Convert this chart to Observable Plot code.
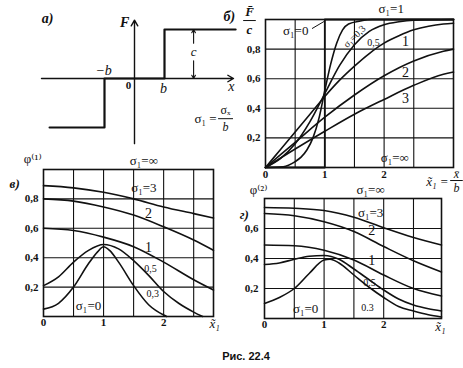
<!DOCTYPE html>
<html><head><meta charset="utf-8">
<script src="https://cdn.jsdelivr.net/npm/d3@7"></script>
<script src="https://cdn.jsdelivr.net/npm/@observablehq/plot@0.6"></script>
<style>
body{margin:0;background:#fff;}
#fig{position:relative;width:463px;height:368px;overflow:hidden;}
#fig svg{position:absolute;overflow:visible;background:transparent;}
#fig svg, #fig svg text, #fig svg g{font-family:"Liberation Serif","DejaVu Serif",serif !important;}
#caption{position:absolute;left:0;width:492px;top:350px;text-align:center;font:bold 11px "Liberation Sans",Arial,sans-serif;color:#111;}
</style></head><body><div id="fig"><div id="caption">Рис. 22.4</div></div>
<script>
// ---------- Panel а: relay characteristic (x in units of b, F in units of c)
const relayX = [-2.83, -1, -1, 1, 1, 3.37];
const relayF = [-1, -1, 0, 0, 1, 1];

// ---------- Panel б: F̄/c versus x̃1
const bX0 = [0, 1, 1, 3.17];
const bY0 = [0, 0, 1, 1];
const bX03 = [0, 0.3, 0.5, 0.6, 0.7, 0.8, 0.9, 1.0, 1.1, 1.2, 1.3, 1.4, 1.6, 1.8, 2.2, 3.17];
const bY03 = [0, 0.005, 0.04, 0.07, 0.12, 0.2, 0.33, 0.52, 0.7, 0.84, 0.93, 0.97, 0.99, 1, 1, 1];
const bX05 = [0, 0.25, 0.5, 0.75, 1, 1.25, 1.5, 1.75, 2, 2.25, 2.5, 3.17];
const bY05 = [0, 0.06, 0.16, 0.31, 0.5, 0.69, 0.83, 0.92, 0.965, 0.985, 0.995, 1];
const bX1 = [0, 0.25, 0.5, 0.75, 1, 1.25, 1.5, 1.75, 2, 2.25, 2.5, 2.75, 3, 3.17];
const bY1 = [0, 0.12, 0.24, 0.36, 0.48, 0.59, 0.685, 0.77, 0.84, 0.89, 0.93, 0.955, 0.97, 0.975];
const bX23 = [0, 0.5, 1, 1.5, 2, 2.5, 3, 3.17];
const bY2 = [0, 0.17, 0.34, 0.49, 0.62, 0.72, 0.785, 0.80];
const bY3 = [0, 0.125, 0.245, 0.36, 0.46, 0.555, 0.63, 0.645];
const bGridX = [0.5, 1, 1.5, 2, 2.5];
const bGridY = [0.2, 0.4, 0.6, 0.8];
const bTicksX = [0, 1, 2];

// ---------- Panel в: φ(1) versus x̃1
const vX = [0, 0.5, 1, 1.5, 2, 2.5, 2.83];
const vY3 = [0.89, 0.875, 0.845, 0.80, 0.745, 0.70, 0.67];
const vY2 = [0.80, 0.785, 0.745, 0.69, 0.61, 0.52, 0.45];
const vY1 = [0.60, 0.585, 0.54, 0.475, 0.37, 0.25, 0.18];
const vX05 = [0, 0.25, 0.5, 0.75, 1, 1.25, 1.5, 1.75, 2, 2.25, 2.5, 2.65];
const vY05 = [0.21, 0.27, 0.37, 0.45, 0.49, 0.46, 0.38, 0.28, 0.17, 0.09, 0.03, 0];
const vX03 = [0, 0.25, 0.5, 0.75, 0.9, 1, 1.1, 1.25, 1.5, 1.75, 2, 2.05];
const vY03 = [0.05, 0.09, 0.2, 0.36, 0.44, 0.475, 0.45, 0.37, 0.21, 0.08, 0.01, 0];
const vGridX = [0.5, 1, 1.5, 2, 2.5];
const vGridY = [0.2, 0.4, 0.6, 0.8];

// ---------- Panel г: φ(2) versus x̃1
const gX = [0, 0.5, 1, 1.5, 2, 2.5, 2.97];
const gY3 = [0.74, 0.735, 0.72, 0.675, 0.605, 0.54, 0.49];
const gY2 = [0.70, 0.685, 0.645, 0.58, 0.48, 0.385, 0.31];
const gY1 = [0.49, 0.485, 0.455, 0.39, 0.29, 0.20, 0.15];
const gX05 = [0, 0.25, 0.5, 0.75, 1, 1.25, 1.5, 1.75, 2, 2.25, 2.5, 2.75, 2.97];
const gY05 = [0.36, 0.37, 0.395, 0.415, 0.42, 0.395, 0.33, 0.26, 0.19, 0.13, 0.09, 0.065, 0.05];
const gX03 = [0, 0.25, 0.5, 0.75, 1, 1.1, 1.25, 1.5, 1.75, 2, 2.25, 2.5, 2.75, 2.97];
const gY03 = [0.10, 0.14, 0.2, 0.3, 0.39, 0.395, 0.37, 0.29, 0.21, 0.14, 0.08, 0.05, 0.025, 0.01];
const gGridX = [0.5, 1, 1.5, 2, 2.5];
const gGridY = [0.2, 0.4, 0.6];

// ---------- helpers
const serif = "'Liberation Serif','DejaVu Serif',serif";
const rows = (xs, ys) => xs.map((x, i) => ({x, y: ys[i]}));
const curve = (xs, ys, o = {}) => Plot.line(rows(xs, ys), {x: "x", y: "y", curve: "monotone-x", stroke: "#111", strokeWidth: 1.6, ...o});
const lab = (t, x, y, o = {}) => Plot.text([{t, x, y}], {x: "x", y: "y", text: "t", fontSize: 12, fill: "#111", fontFamily: serif, ...o});
const seg = (x1, y1, x2, y2, o = {}) => Plot.line([{x: x1, y: y1}, {x: x2, y: y2}], {x: "x", y: "y", stroke: "#111", strokeWidth: 1, ...o});
const comma = d => d.toFixed(1).replace(".", ",");
const fig = document.getElementById("fig");
function place(svg, left, top) {
  svg.style.left = left + "px";
  svg.style.top = top + "px";
  fig.appendChild(svg);
}
const baseStyle = {fontFamily: serif, background: "transparent", color: "#111", overflow: "visible"};
const tickTxt = {tickSize: 0, fontSize: 11, fontWeight: "bold", fontFamily: serif, label: null};

// ---------- Panel а
const pA = Plot.plot({
  width: 240, height: 145, marginLeft: 0, marginRight: 0, marginTop: 0, marginBottom: 0,
  x: {domain: [-134 / 30, 106 / 30], axis: null},
  y: {domain: [-67 / 49, 78 / 49], axis: null},
  style: baseStyle,
  marks: [
    Plot.arrow([{x1: -3.1, y1: 0, x2: 3.3, y2: 0}], {x1: "x1", y1: "y1", x2: "x2", y2: "y2", stroke: "#111", strokeWidth: 1.4, headLength: 7}),
    Plot.arrow([{x1: 0, y1: -1.33, x2: 0, y2: 1.19}], {x1: "x1", y1: "y1", x2: "x2", y2: "y2", stroke: "#111", strokeWidth: 1.4, headLength: 7}),
    Plot.line(rows(relayX, relayF), {x: "x", y: "y", stroke: "#111", strokeWidth: 2.2}),
    Plot.arrow([{x1: 1.97, y1: 0.72, x2: 1.97, y2: 1.0}, {x1: 1.97, y1: 0.36, x2: 1.97, y2: 0}],
      {x1: "x1", y1: "y1", x2: "x2", y2: "y2", stroke: "#111", strokeWidth: 1.1, headLength: 5}),
    lab("а)", -2.9, 1.22, {fontStyle: "italic", fontWeight: "bold", fontSize: 14}),
    lab("F", -0.33, 1.14, {fontStyle: "italic", fontWeight: "bold", fontSize: 14}),
    lab("−b", -1.03, 0.17, {fontStyle: "italic", fontSize: 14}),
    lab("0", -0.2, -0.15, {fontSize: 11, fontWeight: "bold"}),
    lab("b", 0.97, -0.2, {fontStyle: "italic", fontSize: 14}),
    lab("c", 1.97, 0.55, {fontStyle: "italic", fontSize: 13}),
    lab("x", 3.23, -0.16, {fontStyle: "italic", fontSize: 14}),
    lab("σ₁ =", 2.37, -0.82, {fontSize: 13}),
    lab("σₓ", 3.03, -0.64, {fontSize: 12}),
    seg(2.8, -0.82, 3.27, -0.82),
    lab("b", 3.03, -1.0, {fontStyle: "italic", fontSize: 12})
  ]
});
place(pA, 0, 0);

// ---------- Panel б
const pB = Plot.plot({
  width: 243, height: 192, marginLeft: 45, marginRight: 10, marginTop: 19, marginBottom: 25,
  x: {domain: [0, 3.17]},
  y: {domain: [0, 1]},
  style: baseStyle,
  marks: [
    Plot.ruleX(bGridX, {stroke: "#111", strokeWidth: 1.1}),
    Plot.ruleY(bGridY, {stroke: "#111", strokeWidth: 1.1}),
    Plot.frame({stroke: "#111", strokeWidth: 1.6}),
    Plot.axisX({ticks: bTicksX, tickPadding: 3, tickFormat: d => String(d), ...tickTxt}),
    Plot.axisY({ticks: bGridY, tickPadding: 5, tickFormat: comma, ...tickTxt}),
    Plot.line(rows(bX0, bY0), {x: "x", y: "y", stroke: "#111", strokeWidth: 1.8}),
    curve(bX03, bY03),
    curve(bX05, bY05),
    curve(bX1, bY1),
    curve(bX23, bY2),
    curve(bX23, bY3),
    lab("σ₁=1", 2.12, 1.07, {fontSize: 13}),
    lab("б)", -0.61, 1.02, {fontStyle: "italic", fontWeight: "bold", fontSize: 14}),
    lab("F\u0304", -0.27, 1.05, {fontStyle: "italic", fontWeight: "bold", fontSize: 13}),
    seg(-0.37, 0.993, -0.17, 0.993),
    lab("c", -0.27, 0.932, {fontStyle: "italic", fontWeight: "bold", fontSize: 13}),
    lab("σ₁=0", 0.51, 0.925, {fontSize: 13}),
    seg(0.79, 0.94, 0.98, 0.985),
    lab("σ₁=0,3", 1.5, 0.885, {fontSize: 10, rotate: -45}),
    lab("0,5", 1.82, 0.845, {fontSize: 10}),
    lab("1", 2.36, 0.85, {fontSize: 14}),
    lab("2", 2.36, 0.64, {fontSize: 14}),
    lab("3", 2.36, 0.466, {fontSize: 14}),
    lab("σ₁=∞", 2.18, 0.068, {fontSize: 13}),
    lab("x\u0303₁ =", 2.9, -0.095, {fontStyle: "italic", fontSize: 13}),
    lab("x\u0304", 3.22, -0.047, {fontStyle: "italic", fontSize: 12}),
    seg(3.12, -0.088, 3.32, -0.088),
    lab("b", 3.22, -0.142, {fontStyle: "italic", fontSize: 12})
  ]
});
place(pB, 220, 0);

// ---------- Panel в
const pV = Plot.plot({
  width: 225, height: 190, marginLeft: 43, marginRight: 12, marginTop: 24, marginBottom: 19,
  x: {domain: [0, 2.83]},
  y: {domain: [0, 1]},
  style: baseStyle,
  marks: [
    Plot.ruleX(vGridX, {stroke: "#111", strokeWidth: 1.1}),
    Plot.ruleY(vGridY, {stroke: "#111", strokeWidth: 1.1}),
    Plot.frame({stroke: "#111", strokeWidth: 1.6}),
    Plot.axisX({ticks: [0, 1, 2], tickPadding: 2, tickFormat: d => String(d), ...tickTxt}),
    Plot.axisY({ticks: vGridY, tickPadding: 5, tickFormat: comma, ...tickTxt}),
    curve(vX, vY3),
    curve(vX, vY2),
    curve(vX, vY1),
    curve(vX05, vY05),
    curve(vX03, vY03),
    lab("φ⁽¹⁾", -0.18, 1.07, {fontSize: 13}),
    lab("в)", -0.48, 0.905, {fontStyle: "italic", fontWeight: "bold", fontSize: 13}),
    lab("σ₁=∞", 1.67, 1.06, {fontSize: 13}),
    lab("σ₁=3", 1.67, 0.878, {fontSize: 13}),
    lab("2", 1.75, 0.70, {fontSize: 14}),
    lab("1", 1.75, 0.47, {fontSize: 14}),
    lab("0,5", 1.78, 0.327, {fontSize: 10}),
    lab("0,3", 1.82, 0.156, {fontSize: 10}),
    lab("σ₁=0", 0.75, 0.075, {fontSize: 13}),
    lab("x\u0303₁", 2.85, -0.048, {fontStyle: "italic", fontSize: 13})
  ]
});
place(pV, 0, 145);

// ---------- Panel г
const pG = Plot.plot({
  width: 231, height: 153, marginLeft: 32, marginRight: 22, marginTop: 16, marginBottom: 17,
  x: {domain: [0, 2.97]},
  y: {domain: [0, 0.8]},
  style: baseStyle,
  marks: [
    Plot.ruleX(gGridX, {stroke: "#111", strokeWidth: 1.1}),
    Plot.ruleY(gGridY, {stroke: "#111", strokeWidth: 1.1}),
    Plot.frame({stroke: "#111", strokeWidth: 1.6}),
    Plot.axisX({ticks: [0, 1, 2], tickPadding: 2, tickFormat: d => String(d), ...tickTxt}),
    Plot.axisY({ticks: gGridY, tickPadding: 6, tickFormat: comma, ...tickTxt}),
    curve(gX, gY3),
    curve(gX, gY2),
    curve(gX, gY1),
    curve(gX05, gY05),
    curve(gX03, gY03),
    lab("φ⁽²⁾", -0.1, 0.86, {fontSize: 13}),
    lab("σ₁=∞", 1.78, 0.86, {fontSize: 13}),
    lab("г)", -0.34, 0.693, {fontStyle: "italic", fontWeight: "bold", fontSize: 13}),
    lab("σ₁=3", 1.78, 0.707, {fontSize: 13}),
    lab("2", 1.8, 0.587, {fontSize: 14}),
    lab("1", 1.8, 0.387, {fontSize: 14}),
    lab("0.5", 1.76, 0.24, {fontSize: 10}),
    lab("0.3", 1.73, 0.073, {fontSize: 10}),
    lab("σ₁=0", 0.69, 0.067, {fontSize: 13}),
    lab("x\u0303₁", 2.95, -0.053, {fontStyle: "italic", fontSize: 13})
  ]
});
place(pG, 232, 182);
</script>
</body></html>
